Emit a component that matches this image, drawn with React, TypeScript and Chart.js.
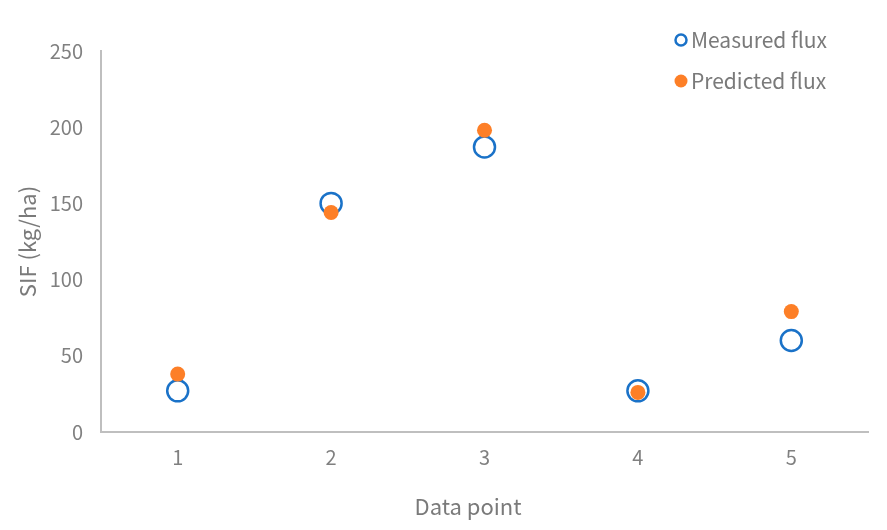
import React, { useEffect, useRef } from "react";
import { Chart, registerables } from "chart.js";

Chart.register(...registerables);

const categories = ["1", "2", "3", "4", "5"];
const measuredFlux = [27, 150, 187, 27, 60];
const predictedFlux = [38, 144, 198, 26, 79];
const yTicks = [0, 50, 100, 150, 200, 250];
const seriesNames = ["Measured flux", "Predicted flux"];
const xTitle = "Data point";
const yTitle = "SIF (kg/ha)";

const BLUE = "#1a72c8";
const ORANGE = "#fd7f27";
const FONT = "'Noto Sans CJK SC', 'Noto Sans', sans-serif";

const overlayPlugin = {
  id: "overlay",
  afterDraw(chart: any) {
    const ctx = chart.ctx;
    ctx.save();
    // x-axis title
    ctx.fillStyle = "#7a7a7a";
    ctx.font = `22px ${FONT}`;
    ctx.textAlign = "center";
    ctx.textBaseline = "middle";
    ctx.fillText(xTitle, 468, 507);
    // legend
    const lx = 681;
    const rows = [40, 81];
    ctx.textAlign = "left";
    ctx.font = `21px ${FONT}`;
    rows.forEach((y, i) => {
      ctx.beginPath();
      ctx.arc(lx, y, i === 0 ? 5.5 : 6.5, 0, Math.PI * 2);
      if (i === 0) {
        ctx.fillStyle = "#ffffff";
        ctx.fill();
        ctx.lineWidth = 2.5;
        ctx.strokeStyle = BLUE;
        ctx.stroke();
      } else {
        ctx.fillStyle = ORANGE;
        ctx.fill();
      }
      ctx.fillStyle = "#7a7a7a";
      ctx.fillText(seriesNames[i], 691, y);
    });
    ctx.restore();
  },
};

export default function App() {
  const ref = useRef<HTMLCanvasElement | null>(null);
  useEffect(() => {
    if (!ref.current) return;
    const chart = new Chart(ref.current, {
      type: "line",
      data: {
        labels: categories,
        datasets: [
          {
            label: seriesNames[0],
            data: measuredFlux,
            showLine: false,
            pointRadius: 10.5,
            pointBorderWidth: 2.5,
            pointBorderColor: BLUE,
            pointBackgroundColor: "#ffffff",
            borderColor: BLUE,
            backgroundColor: "#ffffff",
            order: 2,
          },
          {
            label: seriesNames[1],
            data: predictedFlux,
            showLine: false,
            pointRadius: 7.5,
            pointBorderWidth: 0,
            pointBackgroundColor: ORANGE,
            borderColor: ORANGE,
            backgroundColor: ORANGE,
            order: 1,
          },
        ],
      },
      options: {
        animation: false,
        responsive: false,
        maintainAspectRatio: false,
        layout: { padding: { top: 51, right: 19, left: 0, bottom: 0 } },
        plugins: {
          legend: { display: false },
          tooltip: { enabled: false },
          title: { display: false },
        },
        scales: {
          x: {
            type: "category",
            offset: true,
            grid: { display: false, drawTicks: false },
            border: { display: true, color: "#bfbfbf", width: 2 },
            ticks: {
              color: "#808080",
              font: { family: FONT, size: 20 },
              padding: 13,
            },
            afterFit: (s: any) => {
              s.height = 98;
            },
          },
          y: {
            min: 0,
            max: 250,
            afterBuildTicks: (s: any) => {
              s.ticks = yTicks.map((v) => ({ value: v }));
            },
            grid: { display: false, drawTicks: false },
            border: { display: true, color: "#bfbfbf", width: 2 },
            ticks: {
              color: "#808080",
              font: { family: FONT, size: 20 },
              padding: 18,
            },
            title: {
              display: true,
              text: yTitle,
              color: "#7a7a7a",
              font: { family: FONT, size: 22 },
              padding: { top: 14, bottom: 0 },
            },
            afterFit: (s: any) => {
              s.width = 101;
            },
          },
        },
      },
      plugins: [overlayPlugin],
    });
    return () => chart.destroy();
  }, []);
  return (
    <div style={{ position: "fixed", left: 0, top: 0, width: 887, height: 530, background: "#fff" }}>
      <canvas ref={ref} width={887} height={530} style={{ width: 887, height: 530 }} />
    </div>
  );
}
